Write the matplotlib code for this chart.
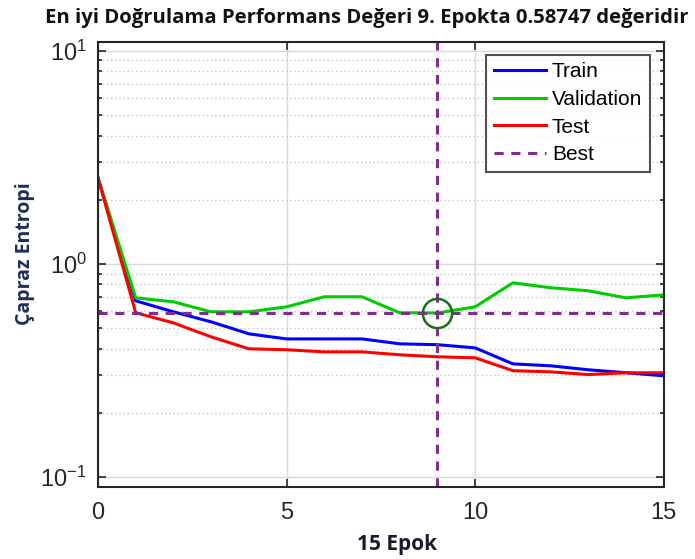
import numpy as np
import matplotlib
matplotlib.use('Agg')
import matplotlib.pyplot as plt
from matplotlib.ticker import LogLocator, NullFormatter

# epoch values
epochs = list(range(16))
train = [2.53, 0.67, 0.595, 0.534, 0.469, 0.444, 0.444, 0.444, 0.421, 0.417,
         0.403, 0.339, 0.332, 0.318, 0.308, 0.298]
validation = [2.53, 0.692, 0.663, 0.595, 0.595, 0.628, 0.70, 0.70, 0.589, 0.58747,
              0.628, 0.814, 0.772, 0.747, 0.692, 0.715]
test = [2.53, 0.589, 0.528, 0.454, 0.399, 0.395, 0.386, 0.386, 0.374, 0.366,
        0.362, 0.315, 0.311, 0.302, 0.308, 0.308]
best_epoch = 9
best_value = 0.58747

plt.rcParams['font.family'] = ['Liberation Sans', 'DejaVu Sans']
plt.rcParams['mathtext.default'] = 'regular'

fig = plt.figure(figsize=(6.95, 5.59), dpi=100)
ax = fig.add_axes([0.141, 0.129, 0.814, 0.796])

ax.plot(epochs, train, color='#0000ff', lw=2.2, label='Train')
ax.plot(epochs, validation, color='#00cc00', lw=2.2, label='Validation')
ax.plot(epochs, test, color='#ff0000', lw=2.2, label='Test')
ax.axvline(best_epoch, color='#7e2f8e', lw=2.2, ls=(0, (3, 2.5)), label='Best')
ax.axhline(best_value, color='#7e2f8e', lw=2.2, ls=(0, (3, 2.5)))
ax.plot([best_epoch], [best_value], 'o', mfc='none', mec='#1a6e1a', mew=1.8, ms=21)

ax.set_yscale('log')
ax.set_xlim(0, 15)
ax.set_ylim(0.0897, 11.0)
ax.set_xticks([0, 5, 10, 15])
ax.yaxis.set_major_locator(LogLocator(base=10, numticks=5))
ax.yaxis.set_minor_locator(LogLocator(base=10, subs=np.arange(2, 10), numticks=10))
ax.yaxis.set_minor_formatter(NullFormatter())

ax.grid(True, which='major', color='#d9d9d9', lw=1.0, ls='-')
ax.grid(True, which='minor', axis='y', color='#c8c8c8', lw=1.0, ls=(0, (1, 2)))
ax.set_axisbelow(True)

ax.tick_params(which='both', direction='in', top=True, right=True,
               colors='#262626', labelsize=17, width=1.2)
ax.tick_params(which='major', length=6)
ax.tick_params(which='minor', length=3)
ax.tick_params(axis='x', pad=11)
ax.tick_params(axis='y', pad=8)
for s in ax.spines.values():
    s.set_color('#262626')
    s.set_linewidth(1.5)

leg = ax.legend(loc='upper right', bbox_to_anchor=(0.975, 0.971), fontsize=15,
                frameon=True, fancybox=False, edgecolor='#262626',
                handlelength=2.5, handletextpad=0.3, borderpad=0.35,
                labelspacing=0.42, borderaxespad=0)
leg.get_frame().set_linewidth(1.5)

fig.text(0.527, 0.968, 'En iyi Doğrulama Performans Değeri 9. Epokta 0.58747 değeridir',
         ha='center', va='center', fontsize=14.6, fontweight='bold',
         family=['Open Sans', 'DejaVu Sans'], color='#111111')
ax.set_xlabel('15 Epok', fontsize=15, fontweight='bold', family=['Open Sans', 'DejaVu Sans'],
              color='#1a1a2e')
ax.xaxis.set_label_coords(0.528, -0.105)
ax.set_ylabel('Çapraz Entropi', fontsize=14, fontweight='bold', family=['Open Sans', 'DejaVu Sans'],
              color='#1f2d5a')
ax.yaxis.set_label_coords(-0.112, 0.524)

fig.savefig('out.png', dpi=100)
